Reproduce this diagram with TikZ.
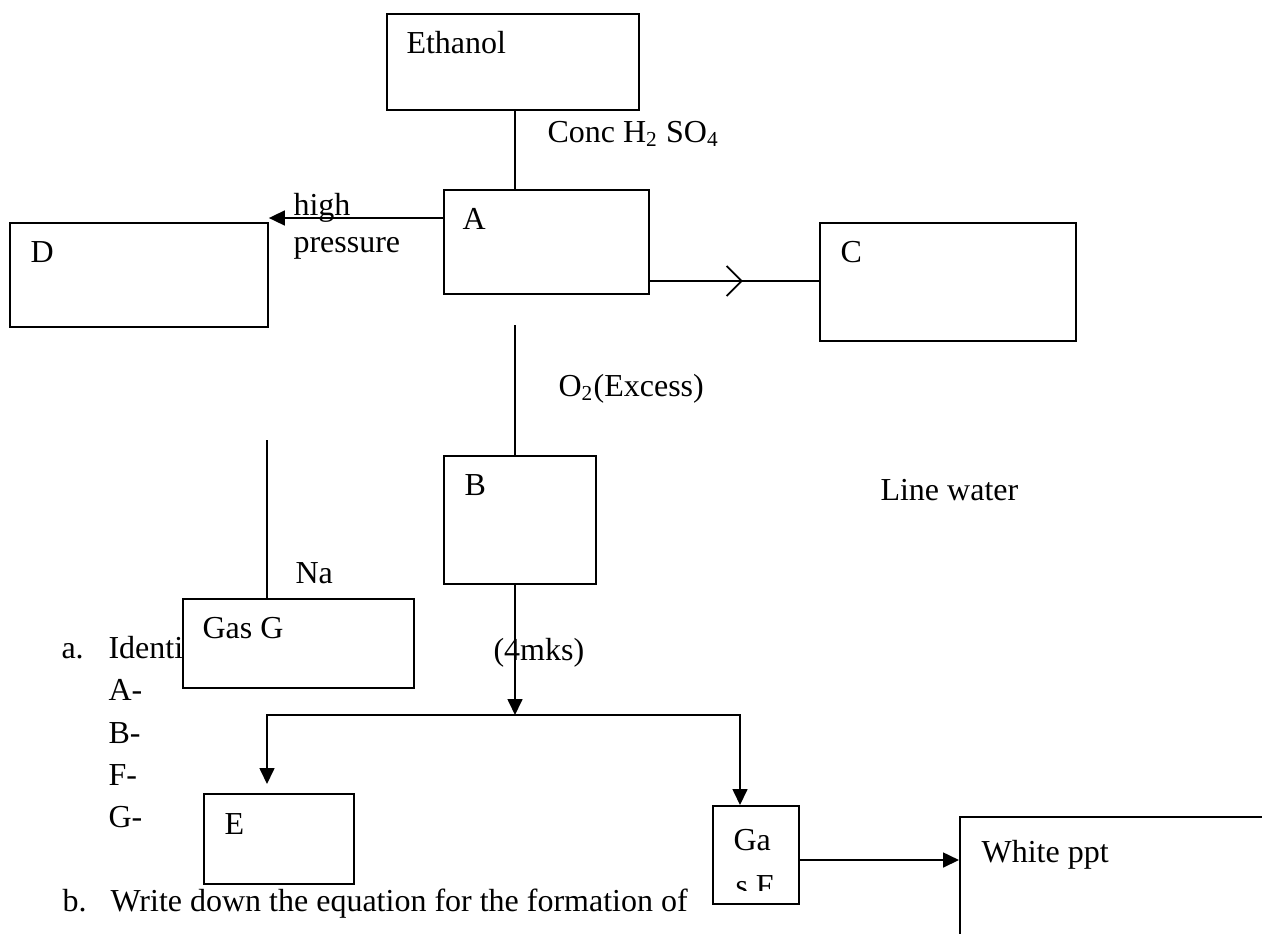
\documentclass[tikz,border=0pt]{standalone}
\usepackage{fontspec}
\setmainfont{Liberation Serif}
\usetikzlibrary{arrows.meta,decorations.markings}
\newdimen\unitpx
\unitpx=0.375pt
\tikzset{
  box/.style={draw, line width=0.7pt, anchor=north west, inner sep=0pt},
  lbl/.style={anchor=base west, inner sep=0pt},
  arr/.style={line width=0.7pt, -{Triangle[length=6pt,width=5.6pt]}},
  midarr/.style={postaction={decorate, decoration={markings,
      mark=at position #1 with {\arrow{Straight Barb[length=5.6pt,width=11.25pt,line width=0.7pt]}}}}}
}
\begin{document}
\begin{tikzpicture}[x=\unitpx, y=-\unitpx, font=\fontsize{12}{14}\selectfont]
\clip (0,0) rectangle (1262,933);
\node[box, minimum width=252\unitpx, minimum height=96\unitpx] (ethanol) at (386,13){};
\node[box, minimum width=205\unitpx, minimum height=104\unitpx] (nodeA) at (443,189){};
\node[box, minimum width=258\unitpx, minimum height=104\unitpx] (nodeD) at (9,222){};
\node[box, minimum width=256\unitpx, minimum height=118\unitpx] (nodeC) at (819,222){};
\node[box, minimum width=152\unitpx, minimum height=128\unitpx] (nodeB) at (443,455){};
\node[box, minimum width=231\unitpx, minimum height=89\unitpx] (gasG) at (182,598){};
\node[box, minimum width=150\unitpx, minimum height=90\unitpx] (nodeE) at (203,793){};
\node[box, minimum width=86\unitpx, minimum height=98\unitpx] (gasF) at (712,805){};
\node[box, minimum width=400\unitpx, minimum height=200\unitpx] (whiteppt) at (959,816){};

\node[lbl] (tEthanol) at (406,53){Ethanol};
\node[lbl] (tConc) at (547,142){Conc H\textsubscript{2} SO\textsubscript{4}};
\node[lbl] (tA) at (462,229){A};
\node[lbl] (tHigh) at (293,215){high};
\node[lbl] (tPressure) at (293,252){pressure};
\node[lbl] (tD) at (30,262){D};
\node[lbl] (tC) at (840,262){C};
\node[lbl] (tOxygen) at (558,396){O\textsubscript{2}(Excess)};
\node[lbl] (tB) at (464,495){B};
\node[lbl] (tLime) at (880,500){Line water};
\node[lbl] (tNa) at (295,583){Na};
\node[lbl] (tGasG) at (202,638){Gas G};
\node[lbl] (tMarks) at (493,660){(4mks)};
\node[lbl] (tE) at (224,834){E};
\node[lbl] (tWhite) at (981,862){White ppt};
\node[lbl] (tGa) at (733,850){Ga};
\begin{scope}
\clip (712,805) rectangle (798,890);
\node[lbl] (tSF) at (735,896){s F};
\end{scope}

\node[lbl] (qa) at (61,658){a.};
\node[lbl] (qaText) at (108,658){Identi};
\node[lbl] (qA) at (108,700){A-};
\node[lbl] (qB) at (108,743){B-};
\node[lbl] (qF) at (108,785){F-};
\node[lbl] (qG) at (108,827){G-};
\node[lbl] (qb) at (62,911){b.};
\node[lbl] (qbText) at (110,911){Write down the equation for the formation of};

\coordinate (mainline) at (515,0);
\coordinate (hp) at (0,218);
\coordinate (cl) at (0,281);
\coordinate (gaptop) at (515,325);
\coordinate (natop) at (267,440);
\coordinate (jleft) at (267,715);
\coordinate (junction) at (515,715);
\coordinate (jright) at (740,715);
\coordinate (wl) at (0,860);

\draw[line width=0.7pt] (ethanol.south -| mainline) -- (nodeA.north -| mainline);
\draw[arr] (nodeA.west |- hp) -- (nodeD.east |- hp);
\draw[line width=0.7pt, midarr=0.55] (nodeA.east |- cl) -- (nodeC.west |- cl);
\draw[line width=0.7pt] (gaptop) -- (nodeB.north -| gaptop);
\draw[line width=0.7pt] (natop) -- (gasG.north -| natop);
\draw[arr] (nodeB.south -| junction) -- (junction);
\draw[line width=0.7pt, {Triangle[length=6pt,width=5.6pt]}-{Triangle[length=6pt,width=5.6pt]}, shorten <=9\unitpx]
  (nodeE.north -| jleft) -- (jleft) -- (jright) -- (gasF.north -| jright);
\draw[arr] (gasF.east |- wl) -- (whiteppt.west |- wl);
\end{tikzpicture}
\end{document}
